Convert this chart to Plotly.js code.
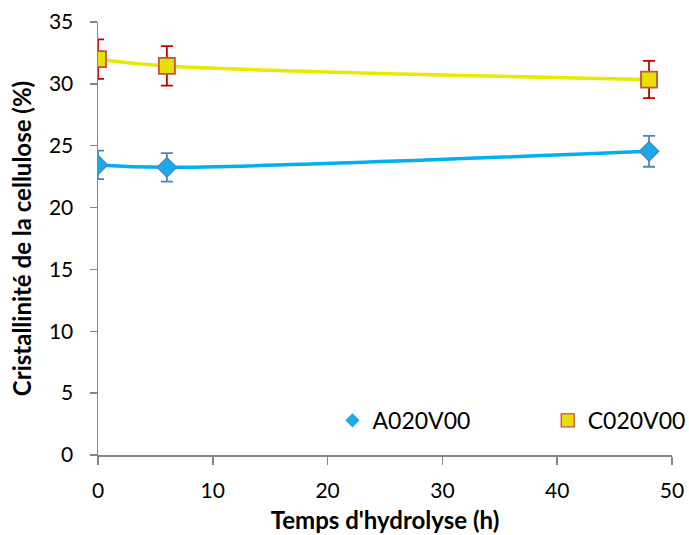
<!DOCTYPE html>
<html><head><meta charset="utf-8">
<script src="https://cdn.plot.ly/plotly-3.0.1.min.js"></script>
<style>body{margin:0;background:#fff}#chart{width:689px;height:535px}</style>
</head><body><div id="chart"></div>
<script>
const hours = [0, 6, 48];
const seriesA = [23.45, 23.25, 24.55];
const errA = [1.15, 1.15, 1.25];
const seriesC = [32.0, 31.45, 30.35];
const errC = [1.6, 1.6, 1.5];
const nameA = "A020V00";
const nameC = "C020V00";

const font = "Lato, 'Open Sans', sans-serif";
const markerA = {symbol: "diamond", size: 15, color: "#1BA9E8", line: {color: "#4F81BD", width: 1.2}};
const markerC = {symbol: "square", size: 16, color: "#E8E000", line: {color: "#C0504D", width: 1.8}};
const traces = [
  {x: hours, y: seriesA, mode: "lines", line: {shape: "spline", color: "#00B0F0", width: 3.5}, showlegend: false, hoverinfo: "skip"},
  {x: hours, y: seriesC, mode: "lines", line: {shape: "spline", color: "#E8E800", width: 3.5}, showlegend: false, hoverinfo: "skip"},
  {x: hours, y: seriesA, name: nameA, mode: "markers", showlegend: false, marker: markerA,
   error_y: {type: "data", array: errA, visible: true, color: "#4F81BD", thickness: 1.8, width: 6}},
  {x: hours, y: seriesC, name: nameC, mode: "markers", showlegend: false, marker: markerC,
   error_y: {type: "data", array: errC, visible: true, color: "#C00000", thickness: 1.8, width: 6}},
  {x: [null], y: [null], name: nameA, mode: "markers", legend: "legend", showlegend: true,
   marker: Object.assign({}, markerA, {size: 11, line: {color: "#1BA9E8", width: 0}})},
  {x: [null], y: [null], name: nameC, mode: "markers", legend: "legend2", showlegend: true,
   marker: Object.assign({}, markerC, {size: 13, line: {color: "#C0504D", width: 1.3}})}
];
const legendBase = {orientation: "h", yanchor: "middle", xanchor: "left", font: {size: 23},
  bgcolor: "rgba(0,0,0,0)", itemwidth: 30};
const layout = {
  width: 689, height: 535,
  margin: {l: 98, r: 17, t: 22, b: 80, autoexpand: false},
  paper_bgcolor: "#fff", plot_bgcolor: "#fff",
  font: {family: font, size: 21, color: "#000"},
  xaxis: {range: [0, 50], dtick: 10, tick0: 0, showgrid: false, zeroline: false, automargin: false,
    showline: true, linecolor: "#868686", linewidth: 1.5, ticks: "outside", ticklen: 8, tickcolor: "#868686", tickwidth: 1.5,
    ticklabelstandoff: 8, tickfont: {size: 21}, title: {text: "<b>Temps d'hydrolyse (h)</b>", font: {size: 24}, standoff: 11}},
  yaxis: {range: [0, 35], dtick: 5, tick0: 0, showgrid: false, zeroline: false, automargin: false,
    showline: true, linecolor: "#868686", linewidth: 1.5, ticks: "outside", ticklen: 7, tickcolor: "#868686", tickwidth: 1.5,
    ticklabelstandoff: 12, tickfont: {size: 21}, title: {text: "<b>Cristallinité de la cellulose (%)</b>", font: {size: 24}, standoff: 10}},
  legend: Object.assign({}, legendBase, {x: 0.4085, y: 0.08}),
  legend2: Object.assign({}, legendBase, {x: 0.7835, y: 0.08})
};
Plotly.newPlot("chart", traces, layout, {displayModeBar: false, staticPlot: true});
</script></body></html>
